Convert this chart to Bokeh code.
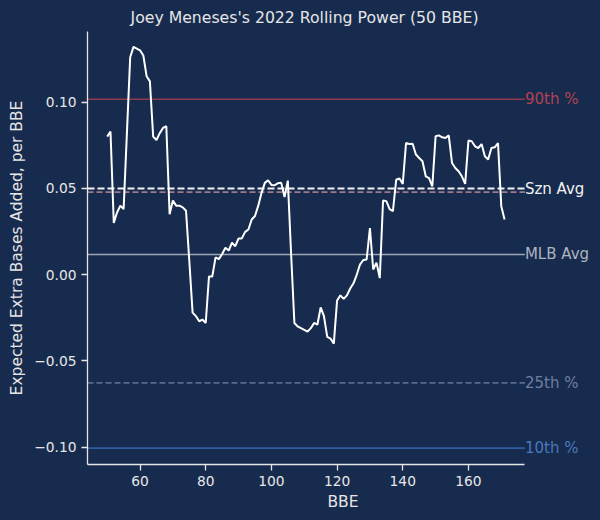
from bokeh.plotting import figure
from bokeh.models import FixedTicker, Range1d
from bokeh.core.properties import value
from bokeh.embed import file_html
from bokeh.resources import INLINE

title = "Joey Meneses's 2022 Rolling Power (50 BBE)"
x_label = "BBE"
y_label = "Expected Extra Bases Added, per BBE"

bbe_start = 50
rolling_power = [
    0.080, 0.083, 0.030, 0.036, 0.040, 0.038, 0.082, 0.126, 0.132, 0.131,   # 50-59
    0.130, 0.127, 0.115, 0.112, 0.080, 0.078, 0.082, 0.085, 0.086, 0.035,   # 60-69
    0.043, 0.040, 0.040, 0.039, 0.037, 0.008, -0.022, -0.024, -0.027, -0.026,  # 70-79
    -0.028, -0.001, -0.001, 0.010, 0.009, 0.012, 0.0156, 0.014, 0.0185, 0.0165,  # 80-89
    0.021, 0.021, 0.0248, 0.0262, 0.032, 0.034, 0.040, 0.0474, 0.0532, 0.0547,  # 90-99
    0.052, 0.0518, 0.053, 0.0532, 0.045, 0.0545, 0.012, -0.028, -0.030, -0.031,  # 100-109
    -0.032, -0.033, -0.031, -0.028, -0.029, -0.019, -0.024, -0.036, -0.037, -0.040,  # 110-119
    -0.015, -0.012, -0.014, -0.012, -0.008, -0.005, 0.000, 0.006, 0.0085, 0.0088,  # 120-129
    0.027, 0.003, 0.007, -0.002, 0.043, 0.0426, 0.038, 0.0368, 0.055, 0.0557,  # 130-139
    0.0526, 0.0763, 0.0757, 0.0759, 0.0696, 0.0676, 0.0657, 0.057, 0.056, 0.0512,  # 140-149
    0.0802, 0.0807, 0.0796, 0.0792, 0.0807, 0.0647, 0.0618, 0.0599, 0.057, 0.0526,  # 150-159
    0.0777, 0.0773, 0.0744, 0.0734, 0.0757, 0.0686, 0.0667, 0.0734, 0.0738, 0.0763,  # 160-169
    0.0397, 0.032,  # 170-171
]
bbe = list(range(bbe_start, bbe_start + len(rolling_power)))

ref_names = ["90th %", "Szn Avg", "", "MLB Avg", "25th %", "10th %"]
ref_values = [0.1016, 0.0499, 0.0478, 0.0117, -0.0627, -0.1005]
ref_colors = ["#8E3A4C", "#F2F2F2", "#A07A8A", "#9EA4B2", "#5A6C8E", "#2F5C9E"]
ref_text_colors = ["#B2434F", "#F2F2F2", "#A07A8A", "#AEB3BE", "#6E7FA0", "#4B78BA"]
ref_dashes = ["solid", "7 3", "6 3", "solid", "6 3", "solid"]
ref_widths = [1.6, 2.0, 1.6, 1.6, 1.6, 1.6]

y_ticks = [-0.10, -0.05, 0.0, 0.05, 0.10]
y_tick_labels = ["\u22120.10", "\u22120.05", "0.00", "0.05", "0.10"]
x_ticks = [60, 80, 100, 120, 140, 160]

x_lo, x_hi = 44.0, 177.2       # axis extent (matplotlib 5% margins)
y_lo, y_hi = -0.110, 0.1409

BG = "#172B4F"
FG = "#E6E6E6"
FONT = "DejaVu Sans"

LEFT, RIGHT, TOP, BOTTOM = 87, 2, 21, 56
W, H = 600, 520
px_per_bbe = 3.284
frame_w = W - LEFT - RIGHT
x_range_hi = x_lo + frame_w / px_per_bbe   # extra room on the right for line labels

p = figure(width=W, height=H, output_backend="svg", toolbar_location=None,
           x_range=Range1d(x_lo, x_range_hi), y_range=Range1d(y_lo, y_hi),
           min_border_left=LEFT, min_border_right=RIGHT, min_border_top=TOP,
           min_border_bottom=BOTTOM)
p.background_fill_color = BG
p.border_fill_color = BG
p.outline_line_color = None
p.xgrid.visible = False
p.ygrid.visible = False

p.title.text = title
p.title.align = "left"
p.title.offset = 43
p.title.text_color = FG
p.title.text_font = FONT
p.title.text_font_size = "15.7px"
p.title.text_font_style = "normal"

for ax in (p.xaxis[0], p.yaxis[0]):
    ax.axis_line_color = FG
    ax.axis_line_width = 1.3
    ax.major_tick_line_color = FG
    ax.major_tick_line_width = 1.3
    ax.major_tick_out = 6
    ax.major_tick_in = 0
    ax.minor_tick_line_color = None
    ax.major_label_text_color = FG
    ax.major_label_text_font = FONT
    ax.major_label_text_font_size = "13.8px"
    ax.axis_label_text_color = FG
    ax.axis_label_text_font = FONT
    ax.axis_label_text_font_size = "15.5px"
    ax.axis_label_text_font_style = "normal"

p.xaxis.bounds = (x_lo, x_hi)
p.xaxis.ticker = FixedTicker(ticks=x_ticks)
p.yaxis.ticker = FixedTicker(ticks=y_ticks)
p.yaxis.major_label_overrides = {t: l for t, l in zip(y_ticks, y_tick_labels)}
p.xaxis.axis_label = x_label
p.yaxis.axis_label = y_label
p.xaxis.major_label_standoff = 5
p.yaxis.major_label_standoff = 5
p.xaxis.axis_label_standoff = 4
p.yaxis.axis_label_standoff = 5

for val, col, dash, lw in zip(ref_values, ref_colors, ref_dashes, ref_widths):
    p.segment(x0=[x_lo], y0=[val], x1=[x_hi], y1=[val], line_color=col,
              line_width=lw, line_dash=dash)

p.line(bbe, rolling_power, line_color="#FFFFFF", line_width=2.0)

lab_names = [nm for nm in ref_names if nm]
lab_vals = [v for nm, v in zip(ref_names, ref_values) if nm]
lab_cols = [c for nm, c in zip(ref_names, ref_text_colors) if nm]
p.text(x=[x_hi] * len(lab_names), y=lab_vals, text=lab_names, text_color=lab_cols,
       text_font=value(FONT), text_font_size="15px", text_baseline="middle",
       text_align="left")

html = file_html(p, INLINE)
html = html.replace("<head>", "<head><style>html,body{background:%s;}</style>" % BG, 1)
open("out.html", "w").write(html)
